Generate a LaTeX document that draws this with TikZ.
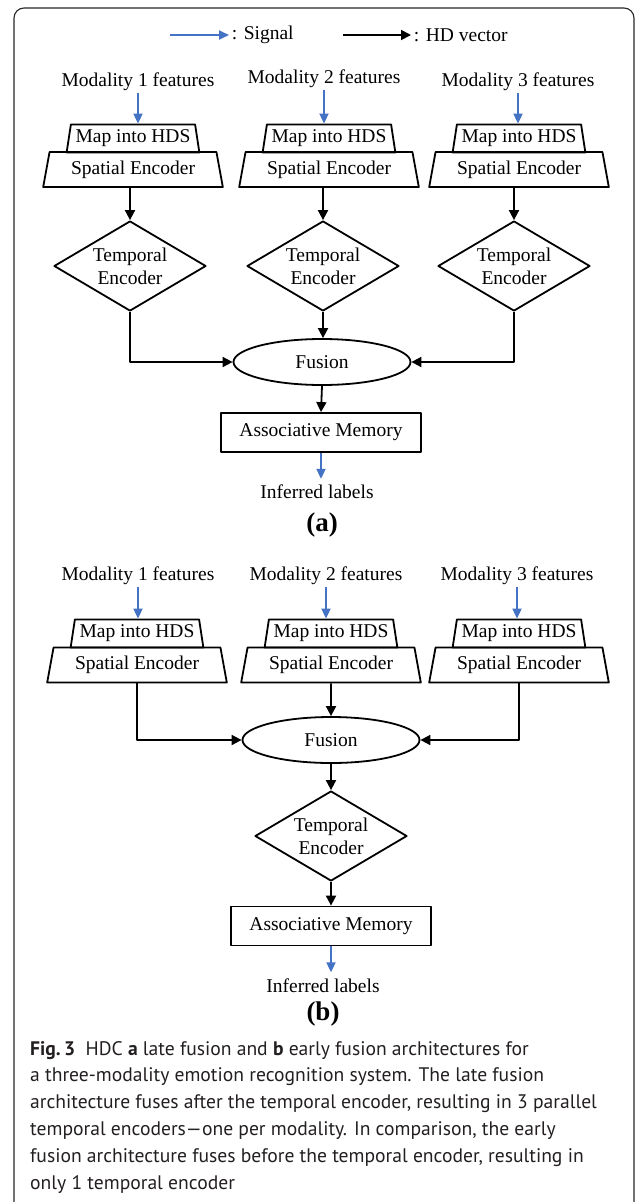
\documentclass[tikz,border=0pt]{standalone}
\usepackage{fontspec}
\setmainfont{Liberation Serif}
\newfontfamily\capfont[Ligatures=TeX]{PT Sans}
\usepackage[dvipsnames]{xcolor}
\usetikzlibrary{arrows.meta}
\usetikzlibrary{shapes.geometric}
\usetikzlibrary{positioning}
\definecolor{sigblue}{RGB}{68,114,196}
\definecolor{captxt}{RGB}{35,31,32}

\tikzset{
  txt/.style={font=\fontsize{19.5}{23}\selectfont, inner sep=0pt, text=black},
  mapbox/.style={txt, draw, line width=1.8pt, trapezium, trapezium stretches=true, trapezium angle=77, minimum width=133pt, minimum height=28pt},
  spbox/.style={txt, draw, line width=1.8pt, trapezium, trapezium stretches=true, trapezium angle=75, minimum width=180pt, minimum height=35pt},
  tempbox/.style={txt, draw, line width=1.8pt, diamond, aspect=1.69, minimum width=152pt, minimum height=90pt, align=center},
  fusbox/.style={txt, draw, line width=1.8pt, ellipse, minimum width=177pt, minimum height=46pt},
  ambox/.style={txt, draw, line width=1.8pt, rectangle, minimum width=200pt, minimum height=39pt},
  sig/.style={-{Triangle[length=10pt,width=9pt]}, sigblue, line width=1.8pt},
  hdv/.style={-{Triangle[length=10pt,width=10pt]}, black, line width=1.8pt},
  lbl/.style={font=\bfseries\fontsize{27}{30}\selectfont, inner sep=0pt}
}

\begin{document}
\begin{tikzpicture}[line join=round, x=1pt, y=-1pt]
						\useasboundingbox (0,0) rectangle (635,1202);
						% Rahmen
						\draw[rounded corners=10pt, line width=1.1pt, black!85] (14,8) rectangle (634,1212);
						% Legende
						\coordinate (sa) at (170,35);
						\coordinate (sb) at (229,35);
						\coordinate (ha) at (343,35);
						\coordinate (hb) at (411,35);
						\draw[sig] (sa) -- (sb) node[txt, anchor=west, xshift=2pt] (sigtxt) {: Signal};
						\draw[hdv] (ha) -- (hb) node[txt, anchor=west, xshift=2pt] (hdtxt) {: HD vector};
						% Teil (a): spaete Fusion
						\foreach \i/\xm/\ym/\xt/\xd in {1/138/81.5/133/130, 2/324/78.5/329/323, 3/518/82/519/514}{
							\node[txt] (ma\i) at (\xm,\ym) {Modality \i\ features};
							\node[mapbox] (hda\i) at (\xt,138.5) {Map into HDS};
							\node[spbox] (spa\i) at (\xt,169.5) {Spatial Encoder};
							\node[tempbox] (tea\i) at (\xd,266) {Temporal\\Encoder};
							\draw[sig, shorten <=2pt] (ma\i.south) -- (ma\i.south |- hda\i.north);
							\draw[hdv] (tea\i.north |- spa\i.south) -- (tea\i.north);
						}
						\node[fusbox] (fua) at (322,362) {Fusion};
						\draw[hdv] (tea1.south) |- (fua.west);
						\draw[hdv] (tea2.south) -- (tea2.south |- fua.north);
						\draw[hdv] (tea3.south) |- (fua.east);
						\node[ambox] (ama) at (321,432.5) {Associative Memory};
						\draw[hdv] (fua.south) -- (ama.north);
						\node[txt] (ila) at (317,492) {Inferred labels};
						\draw[sig, shorten >=6pt] (ama.south) -- (ama.south |- ila.north);
						\node[lbl] (laba) at (322,525) {(a)};
						% Teil (b): fruehe Fusion
						\foreach \i/\xm/\xt in {1/138/137, 2/326/331, 3/517/519}{
							\node[txt] (mb\i) at (\xm,575.5) {Modality \i\ features};
							\node[mapbox] (hdb\i) at (\xt,633.5) {Map into HDS};
							\node[spbox] (spb\i) at (\xt,665) {Spatial Encoder};
							\draw[sig, shorten <=2pt] (mb\i.south) -- (mb\i.south |- hdb\i.north);
						}
						\node[fusbox] (fub) at (331,740) {Fusion};
						\draw[hdv] (spb1.south) |- (fub.west);
						\draw[hdv] (spb2.south) -- (fub.north);
						\draw[hdv] (spb3.south) |- (fub.east);
						\node[tempbox] (teb) at (331,836) {Temporal\\Encoder};
						\draw[hdv] (fub.south) -- (teb.north);
						\node[ambox] (amb) at (331,926) {Associative Memory};
						\draw[hdv] (teb.south) -- (amb.north);
						\node[txt] (ilb) at (323,985.5) {Inferred labels};
						\draw[sig, shorten >=6pt] (amb.south) -- (amb.south |- ilb.north);
						\node[lbl] (labb) at (323,1014) {(b)};
						% Bildunterschrift
						\node[anchor=north west, inner sep=0pt, align=left, text=captxt,
							font=\capfont\fontsize{19.6}{26.8}\selectfont] (cap) at (30,1041)
							{\textbf{Fig.\,3}\ \ HDC \textbf{a} late fusion and \textbf{b} early fusion architectures for\\
							a three-modality emotion recognition system. The late fusion\\
							architecture fuses after the temporal encoder, resulting in 3 parallel\\
							temporal encoders---one per modality. In comparison, the early\\
							fusion architecture fuses before the temporal encoder, resulting in\\
							only 1 temporal encoder};
					\end{tikzpicture}
\end{document}
